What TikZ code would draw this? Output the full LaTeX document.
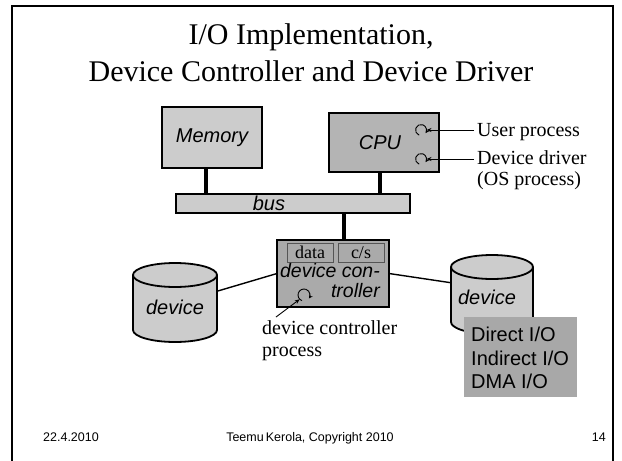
\documentclass[tikz,border=0pt]{standalone}
\usepackage{fontspec}
\setmainfont{Liberation Serif}
\setsansfont{Liberation Sans}
\usetikzlibrary{arrows.meta,calc}
\definecolor{memgray}{RGB}{204,204,204}
\definecolor{cpugray}{RGB}{180,180,180}
\definecolor{ctrlgray}{RGB}{170,170,170}
\definecolor{iogray}{RGB}{168,168,168}
\definecolor{edgegray}{RGB}{85,85,85}
\begin{document}
\begin{tikzpicture}[x=1pt,y=-1pt,
  box/.style={draw, line width=1.5pt, inner sep=0pt, outer sep=0pt,
    font=\sffamily\itshape\fontsize{20}{24}\selectfont},
  sanslab/.style={inner sep=0pt, font=\sffamily\itshape\fontsize{20}{24}\selectfont},
  serlab/.style={inner sep=0pt, anchor=base west, font=\fontsize{20}{23}\selectfont},
  smallbox/.style={draw=edgegray, line width=1pt, inner sep=0pt,
    minimum width=46pt, minimum height=19pt, font=\fontsize{18}{20}\selectfont},
  buslink/.style={line width=4.5pt},
  thinlink/.style={line width=1.4pt},
  proc/.style={circle, inner sep=0pt, outer sep=0pt, minimum size=11pt},
  procarc/.style={line width=0.9pt, -{Stealth[length=4pt,width=4pt]}},
  ptr/.style={line width=0.9pt, -{Stealth[length=5pt,width=4pt]}},
  cyl/.style={fill=memgray, draw, line width=1.8pt},
  ghost/.style={inner sep=0pt, outer sep=0pt},
  foot/.style={inner sep=0pt, anchor=base, font=\sffamily\fontsize{12.5}{14}\selectfont}]
\useasboundingbox (0,0) rectangle (622,461);
\begin{scope}
  \clip (0,0) rectangle (622,461);
  \draw[line width=2pt] (12,470) -- (12,6) -- (613,6) -- (613,470);
\end{scope}

% title
\node[inner sep=0pt, font=\fontsize{30}{34}\selectfont] (t1) at (311,37) {I/O Implementation,};
\node[inner sep=0pt, font=\fontsize{30}{34}\selectfont] (t2) at (311,71) {Device Controller and Device Driver};

% memory, cpu, bus
\node[box, fill=memgray, minimum width=100pt, minimum height=61pt] (mem) at (212,137.5) {Memory};
\node[box, fill=cpugray, minimum width=110pt, minimum height=59pt] (cpu) at (384,142.5) {};
\node[sanslab] (cpulabel) at (380,143) {CPU};
\node[box, fill=memgray, minimum width=234pt, minimum height=19pt] (bus) at (293,203.5) {};
\node[sanslab] (buslabel) at (269,203) {bus};

% controller
\node[box, fill=ctrlgray, minimum width=112pt, minimum height=67pt] (ctrl) at (333,273.5) {};
\node[smallbox, fill=ctrlgray] (data) at (310,252.5) {data};
\node[smallbox, fill=ctrlgray] (cs) at (361,252.5) {c/s};
\node[sanslab, font=\sffamily\itshape\fontsize{19.5}{23}\selectfont] (dc1) at (330,271) {device con-};
\node[sanslab, anchor=east, font=\sffamily\itshape\fontsize{19.5}{23}\selectfont] (dc2) at (380,291) {troller};

% bus links
\coordinate (memlink) at ($(mem.south)+(-6,0)$);
\coordinate (cpulink) at ($(cpu.south)+(-4,0)$);
\coordinate (ctrllink) at ($(ctrl.north)+(11,0)$);
\draw[buslink] (memlink) -- (memlink |- bus.north);
\draw[buslink] (cpulink) -- (cpulink |- bus.north);
\draw[buslink] (ctrllink) -- (ctrllink |- bus.south);

% cpu processes
\node[proc] (p1) at (421,130) {};
\node[proc] (p2) at (421,159) {};
\draw[procarc] (p1.250) arc[start angle=250, end angle=-35, radius=5.5pt];
\draw[procarc] (p2.250) arc[start angle=250, end angle=-35, radius=5.5pt];
\node[serlab] (ulab) at (477,136) {User process};
\node[serlab] (dlab1) at (477,164) {Device driver};
\node[serlab] (dlab2) at (477,185) {(OS process)};
\coordinate (uarr) at (474,130);
\coordinate (darr) at (474,159);
\draw[ptr] (uarr) -- (p1.east);
\draw[ptr] (darr) -- (p2.east);

% controller process
\node[proc, minimum size=12pt] (p3) at (304,295) {};
\draw[procarc] (p3.250) arc[start angle=250, end angle=-35, radius=6pt];
\node[serlab] (dcp1) at (262,334) {device controller};
\node[serlab] (dcp2) at (262,356) {process};
\coordinate (cparr) at (276,317);
\draw[ptr] (cparr) -- (p3.225);

% left device
\filldraw[cyl] (133,275) -- (133,330)
  arc[start angle=180, end angle=360, x radius=42pt, y radius=12pt] -- (217,275)
  arc[start angle=0, end angle=180, x radius=42pt, y radius=12pt] -- cycle;
\draw[line width=1.8pt] (217,275) arc[start angle=0, end angle=-180, x radius=42pt, y radius=12pt];
\node[ghost, minimum width=84pt, minimum height=79pt] (ldev) at (175,302.5) {};
\node[sanslab] (ldevlabel) at (175,307) {device};

% right device
\filldraw[cyl] (451,267) -- (451,322)
  arc[start angle=180, end angle=360, x radius=41pt, y radius=12pt] -- (533,267)
  arc[start angle=0, end angle=180, x radius=41pt, y radius=12pt] -- cycle;
\draw[line width=1.8pt] (533,267) arc[start angle=0, end angle=-180, x radius=41pt, y radius=12pt];
\node[ghost, minimum width=82pt, minimum height=79pt] (rdev) at (492,294.5) {};
\node[sanslab] (rdevlabel) at (487,297) {device};

% device links
\draw[thinlink] (ldev.15) -- (ctrl.west);
\draw[thinlink] (ctrl.east) -- (rdev.164);

% I/O kinds box
\node[fill=iogray, inner sep=0pt, minimum width=113pt, minimum height=80pt] (dio) at (520.5,357) {};
\node[inner sep=0pt, anchor=west, align=left, font=\sffamily\fontsize{20}{23.5}\selectfont] (diotext) at (471,358)
  {Direct I/O\\Indirect I/O\\DMA I/O};

% footer
\node[foot] (fdate) at (71,441) {22.4.2010};
\node[foot] (fauth) at (310,441) {Teemu\,Kerola, Copyright 2010};
\node[foot, anchor=base east] (fpage) at (606,441) {14};
\end{tikzpicture}
\end{document}
